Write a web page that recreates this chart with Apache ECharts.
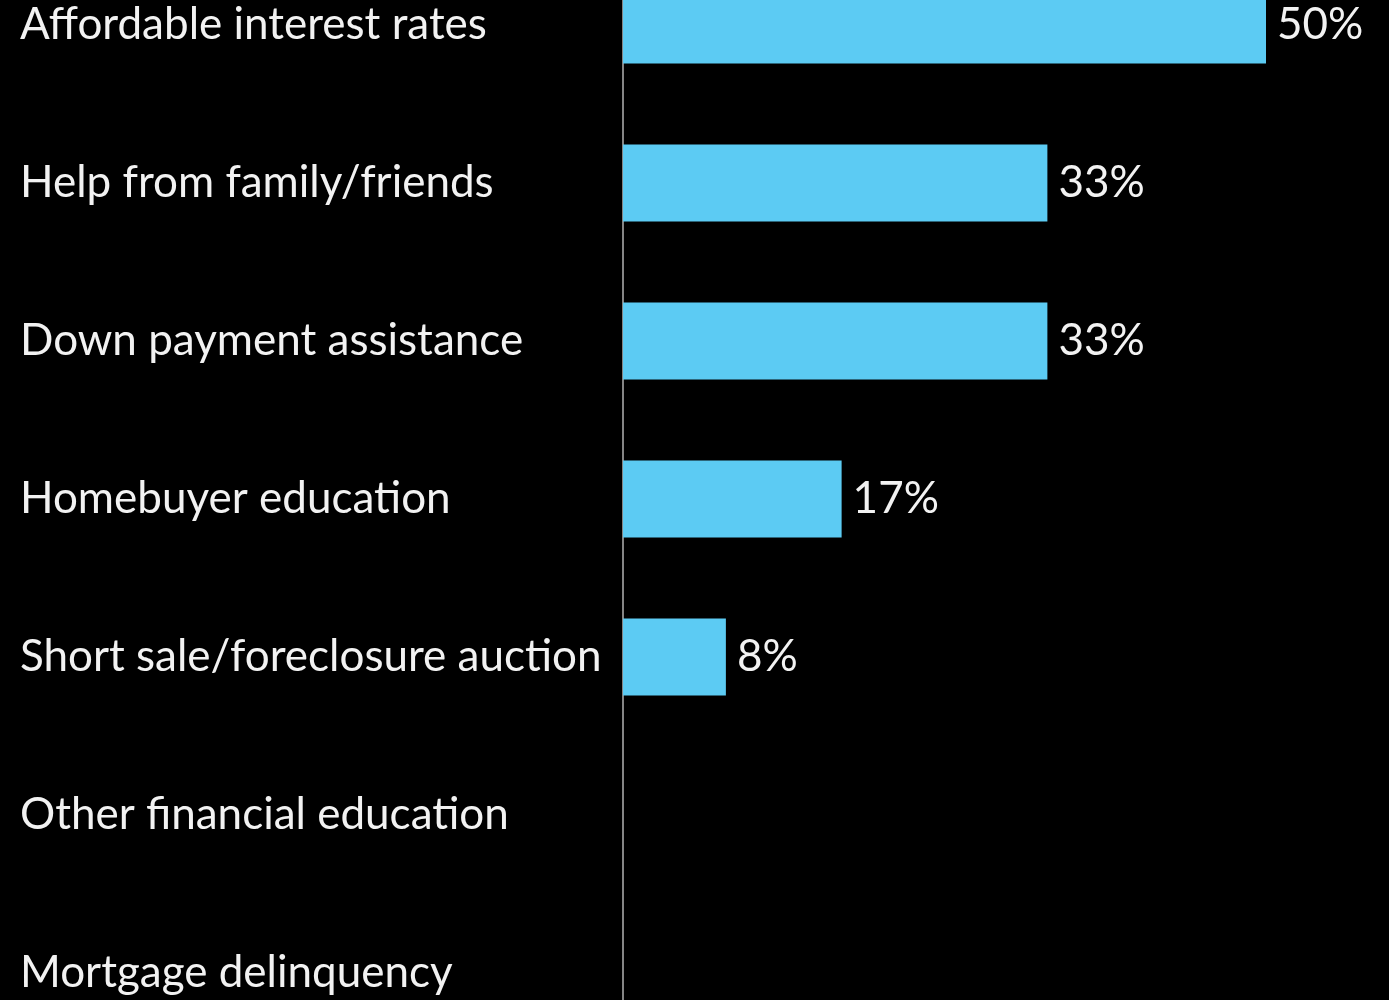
<!DOCTYPE html>
<html>
<head>
<meta charset="utf-8">
<script src="https://cdn.jsdelivr.net/npm/echarts@6/dist/echarts.min.js"></script>
<style>
  html, body { margin: 0; padding: 0; background: #000; overflow: hidden; height: 1000px; }
  /* the plot runs past the top and bottom edges of the page */
  #chart { width: 1389px; height: 1106px; margin-top: -54px; }
</style>
</head>
<body>
<div id="chart"></div>
<script>
// Categories listed top to bottom
const categories = [
  'Affordable interest rates',
  'Help from family/friends',
  'Down payment assistance',
  'Homebuyer education',
  'Short sale/foreclosure auction',
  'Other financial education',
  'Mortgage delinquency'
];
// Share of respondents (%)
const shares = [50, 33, 33, 17, 8, 0, 0];

const FONT = 'Lato, "Open Sans", sans-serif';

const chart = echarts.init(document.getElementById('chart'));
chart.setOption({
  backgroundColor: '#000000',
  animation: false,
  grid: { left: 623, right: 123, top: 0, bottom: 0, containLabel: false },
  xAxis: {
    type: 'value',
    min: 0,
    max: 50,
    show: false
  },
  yAxis: {
    type: 'category',
    data: categories,
    inverse: true,
    axisLine: { show: true, lineStyle: { color: '#858585', width: 2 } },
    axisTick: { show: false },
    splitLine: { show: false },
    axisLabel: {
      align: 'left',
      margin: 603,
      color: '#f2f2f2',
      fontFamily: FONT,
      fontSize: 44
    }
  },
  series: [{
    type: 'bar',
    data: shares,
    barWidth: 77,
    itemStyle: { color: '#5ccbf3' },
    label: {
      show: true,
      position: 'right',
      distance: 11,
      color: '#f2f2f2',
      fontFamily: FONT,
      fontSize: 44,
      formatter: p => (p.value > 0 ? p.value + '%' : '')
    }
  }]
});
</script>
</body>
</html>
